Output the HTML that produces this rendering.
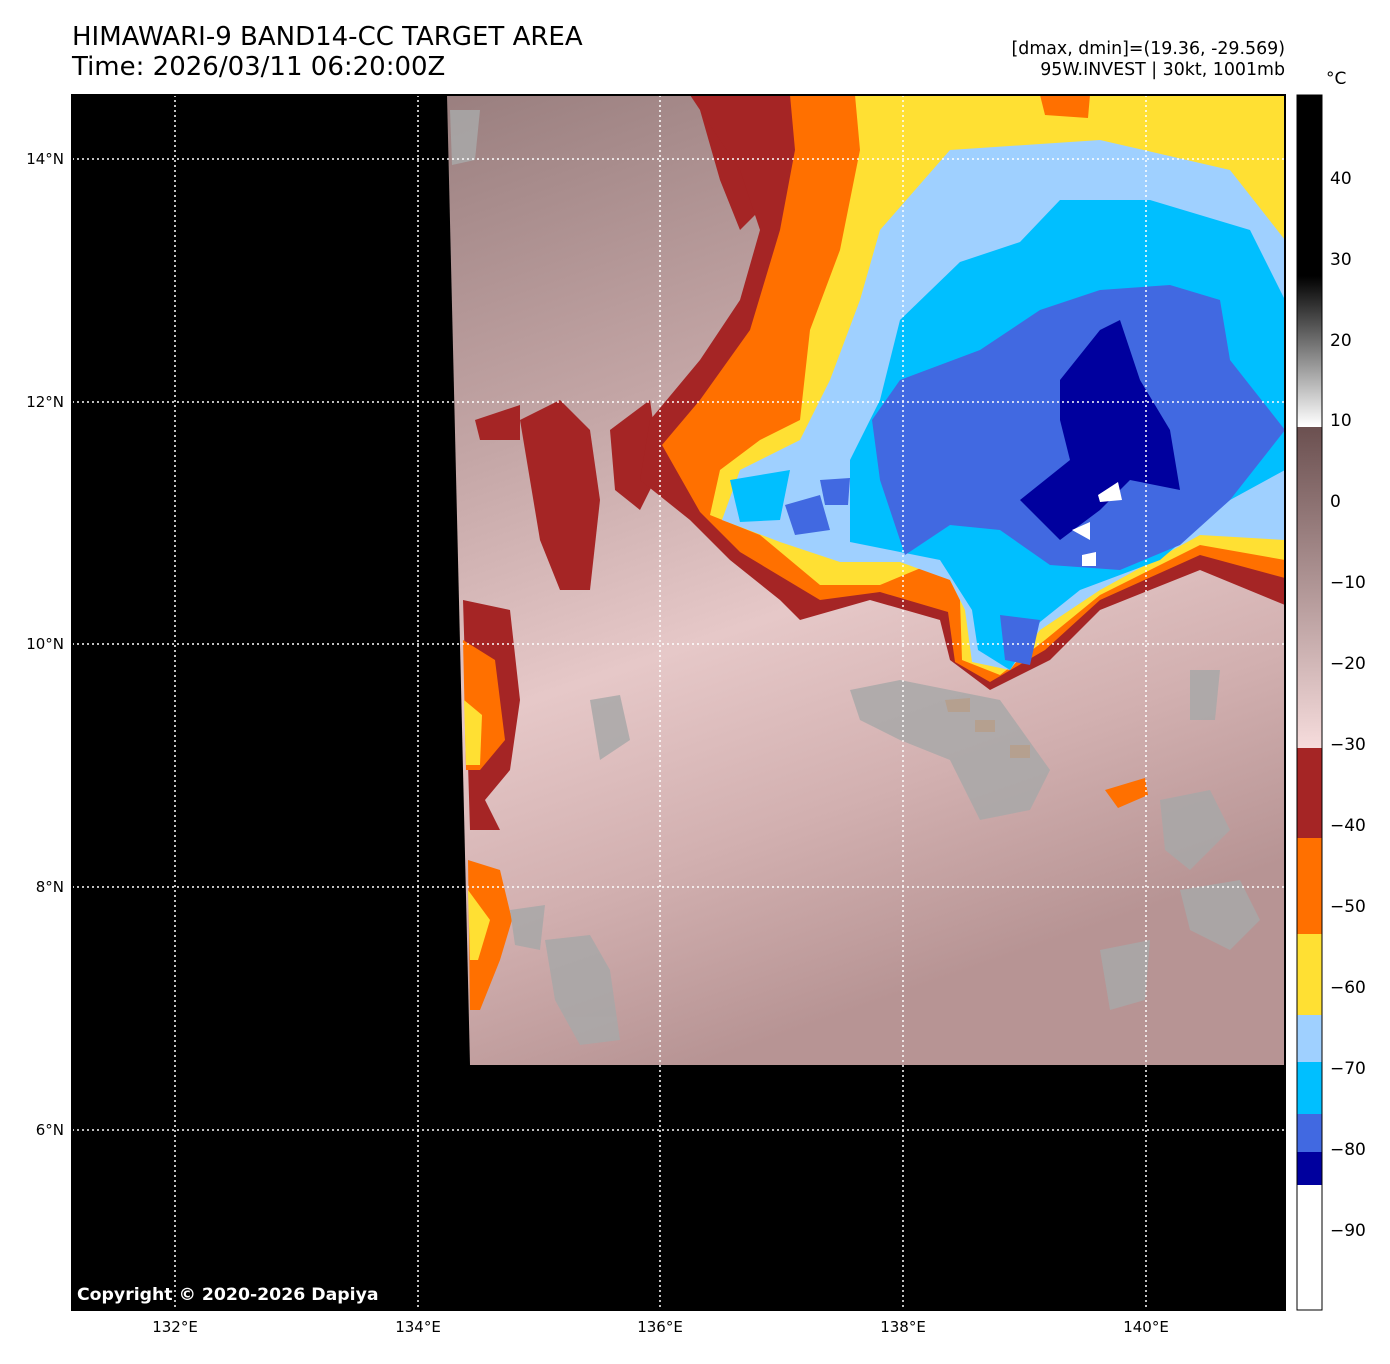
<!DOCTYPE html>
<html><head><meta charset="utf-8"><style>
body{margin:0;background:#fff;width:1390px;height:1359px;overflow:hidden;font-family:"Liberation Sans","DejaVu Sans",sans-serif}
</style></head><body>
<svg width="1390" height="1359" xmlns="http://www.w3.org/2000/svg" font-family="DejaVu Sans, Liberation Sans, sans-serif">
<defs>
<linearGradient id="bg" x1="0" y1="0" x2="0.3" y2="1">
<stop offset="0" stop-color="#9a7f7f"/>
<stop offset="0.35" stop-color="#c4a6a6"/>
<stop offset="0.6" stop-color="#e6c8c8"/>
<stop offset="0.8" stop-color="#d2b0b0"/>
<stop offset="1" stop-color="#b79494"/>
</linearGradient>
<linearGradient id="cbg" x1="0" y1="0" x2="0" y2="1">
<stop offset="0" stop-color="#000"/><stop offset="1" stop-color="#fff"/>
</linearGradient>
<linearGradient id="cbb" x1="0" y1="0" x2="0" y2="1">
<stop offset="0" stop-color="#6b5050"/><stop offset="1" stop-color="#f6dcdc"/>
</linearGradient>
</defs>
<rect x="72" y="95" width="1213" height="1215" fill="#000"/>
<polygon points="447,95 1285,95 1285,1065 470,1065" fill="url(#bg)"/>
<path d="M463,600 L510,610 L520,700 L510,770 L485,800 L500,830 L470,830 Z" fill="#a52525"/>
<path d="M463,640 L495,660 L505,740 L480,770 L466,770 Z" fill="#ff7000"/>
<path d="M464,700 L482,715 L480,765 L466,765 Z" fill="#ffe033"/>
<path d="M468,860 L500,870 L512,920 L500,960 L480,1010 L470,1010 Z" fill="#ff7000"/>
<path d="M468,890 L490,920 L478,960 L470,960 Z" fill="#ffe033"/>
<path d="M520,420 L560,400 L590,430 L600,500 L590,590 L560,590 L540,540 L530,480 Z" fill="#a52525"/>
<path d="M475,420 L520,405 L520,440 L480,440 Z" fill="#a52525"/>
<path d="M610,430 L650,400 L660,470 L640,510 L615,490 Z" fill="#a52525"/>
<path d="M700,110 L760,140 L770,200 L740,230 L720,180 Z" fill="#a52525"/>
<path d="M690,95 L1285,95 L1285,605 L1200,570 L1100,610 L1050,660 L990,690 L950,660 L940,620 L870,600 L800,620 L780,600 L730,560 L690,520 L640,480 L650,420 L700,360 L740,300 L760,230 L740,170 Z" fill="#a52525"/>
<path d="M790,95 L1285,95 L1285,578 L1200,555 L1100,600 L1045,650 L990,682 L955,662 L948,612 L880,592 L820,600 L740,552 L700,512 L662,445 L700,400 L750,330 L780,230 L795,150 Z" fill="#ff7000"/>
<path d="M855,95 L1285,95 L1285,560 L1200,545 L1100,595 L1045,640 L1000,675 L962,660 L960,600 L940,560 L880,585 L820,585 L760,535 L710,515 L720,470 L760,440 L800,420 L810,330 L840,250 L860,150 Z" fill="#ffe033"/>
<path d="M1040,95 L1090,95 L1088,118 L1045,115 Z" fill="#ff7000"/>
<path d="M880,230 L950,150 L1100,140 L1230,170 L1285,240 L1285,540 L1200,535 L1100,590 L1040,630 L1010,670 L972,662 L965,610 L950,580 L900,562 L840,562 L780,542 L722,520 L740,470 L800,440 L830,380 L860,300 Z" fill="#9fd0ff"/>
<path d="M900,320 L960,262 L1020,242 L1060,200 L1150,200 L1250,230 L1285,300 L1285,470 L1230,500 L1160,560 L1080,590 L1040,622 L1010,670 L978,650 L972,610 L940,560 L900,552 L850,542 L850,460 L880,400 Z" fill="#00bfff"/>
<path d="M730,480 L790,470 L780,520 L740,522 Z" fill="#00bfff"/>
<path d="M900,380 L980,350 L1040,310 L1100,290 L1170,285 L1220,300 L1230,360 L1285,430 L1230,500 L1180,545 L1120,570 L1050,565 L1000,530 L950,525 L905,555 L880,480 L872,420 Z" fill="#4169e1"/>
<path d="M785,505 L820,495 L830,530 L795,535 Z" fill="#4169e1"/>
<path d="M820,480 L850,478 L848,505 L825,505 Z" fill="#4169e1"/>
<path d="M1000,615 L1040,620 L1030,665 L1005,660 Z" fill="#4169e1"/>
<path d="M1060,380 L1100,330 L1120,320 L1140,380 L1170,430 L1180,490 L1130,480 L1100,510 L1060,540 L1020,500 L1070,460 L1060,420 Z" fill="#00009e"/>
<path d="M1098,495 L1118,482 L1122,500 L1100,502 Z M1072,530 L1090,522 L1090,540 Z M1082,555 L1096,552 L1096,566 L1082,566 Z" fill="#fff"/>
<path d="M945,700 L970,698 L970,712 L948,712 Z M975,720 L995,720 L995,732 L975,732 Z M1010,745 L1030,745 L1030,758 L1010,758 Z M1105,790 L1145,778 L1148,795 L1118,808 Z" fill="#ff7000"/>
<g fill="#a8a8a8" opacity="0.85">
<path d="M545,940 L590,935 L610,970 L620,1040 L580,1045 L555,1000 Z"/>
<path d="M1180,890 L1240,880 L1260,920 L1230,950 L1190,930 Z"/>
<path d="M850,690 L900,680 L950,690 L1000,700 L1050,770 L1030,810 L980,820 L950,760 L900,740 L860,720 Z"/>
<path d="M1160,800 L1210,790 L1230,830 L1190,870 L1165,850 Z"/>
<path d="M590,700 L620,695 L630,740 L600,760 Z"/>
<path d="M510,910 L545,905 L540,950 L515,945 Z"/>
<path d="M1100,950 L1150,940 L1145,1000 L1110,1010 Z"/>
<path d="M1190,670 L1220,670 L1215,720 L1190,720 Z"/>
<path d="M450,110 L480,110 L475,160 L452,165 Z"/>
</g>
<g stroke="#fff" stroke-width="1.5" stroke-dasharray="2,3">
<line x1="175" y1="95" x2="175" y2="1310"/><line x1="418" y1="95" x2="418" y2="1310"/><line x1="660" y1="95" x2="660" y2="1310"/><line x1="903" y1="95" x2="903" y2="1310"/><line x1="1146" y1="95" x2="1146" y2="1310"/>
<line x1="72" y1="159" x2="1285" y2="159"/><line x1="72" y1="402" x2="1285" y2="402"/><line x1="72" y1="644" x2="1285" y2="644"/><line x1="72" y1="887" x2="1285" y2="887"/><line x1="72" y1="1130" x2="1285" y2="1130"/>
</g>
<rect x="72" y="95" width="1213" height="1215" fill="none" stroke="#000" stroke-width="2"/>
<text x="77" y="1300" fill="#fff" font-size="17.3" font-weight="bold">Copyright © 2020-2026 Dapiya</text>
<text x="72" y="45" font-size="26" fill="#000">HIMAWARI-9 BAND14-CC TARGET AREA</text>
<text x="72" y="75" font-size="26" fill="#000">Time: 2026/03/11 06:20:00Z</text>
<text x="1285" y="54" font-size="17.4" text-anchor="end">[dmax, dmin]=(19.36, -29.569)</text>
<text x="1285" y="75" font-size="17.4" text-anchor="end">95W.INVEST | 30kt, 1001mb</text>
<g font-size="15" text-anchor="end">
<text x="64" y="164">14°N</text><text x="64" y="407">12°N</text><text x="64" y="649">10°N</text><text x="64" y="892">8°N</text><text x="64" y="1135">6°N</text>
</g>
<g font-size="15" text-anchor="middle">
<text x="175" y="1332">132°E</text><text x="418" y="1332">134°E</text><text x="660" y="1332">136°E</text><text x="903" y="1332">138°E</text><text x="1146" y="1332">140°E</text>
</g>
<rect x="1297" y="95" width="25" height="182" fill="#000"/>
<rect x="1297" y="276" width="25" height="150" fill="url(#cbg)"/>
<rect x="1297" y="427" width="25" height="321" fill="url(#cbb)"/>
<rect x="1297" y="748" width="25" height="90" fill="#a52525"/>
<rect x="1297" y="838" width="25" height="96" fill="#ff7000"/>
<rect x="1297" y="934" width="25" height="81" fill="#ffe033"/>
<rect x="1297" y="1015" width="25" height="47" fill="#9fd0ff"/>
<rect x="1297" y="1062" width="25" height="52" fill="#00bfff"/>
<rect x="1297" y="1114" width="25" height="38" fill="#4169e1"/>
<rect x="1297" y="1152" width="25" height="33" fill="#00009e"/>
<rect x="1297" y="1185" width="25" height="125" fill="#fff"/>
<rect x="1297" y="95" width="25" height="1215" fill="none" stroke="#000" stroke-width="1"/>
<text x="1326" y="84" font-size="17">°C</text>
<g font-size="17">
<text x="1330" y="184">40</text><text x="1330" y="265">30</text><text x="1330" y="346">20</text><text x="1330" y="426">10</text><text x="1330" y="507">0</text>
<text x="1330" y="588">−10</text><text x="1330" y="669">−20</text><text x="1330" y="750">−30</text><text x="1330" y="831">−40</text><text x="1330" y="912">−50</text>
<text x="1330" y="993">−60</text><text x="1330" y="1074">−70</text><text x="1330" y="1155">−80</text><text x="1330" y="1236">−90</text>
</g>
</svg>
</body></html>
